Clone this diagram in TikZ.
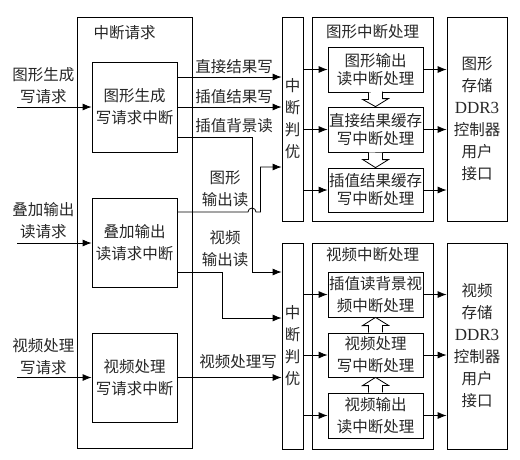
\documentclass[tikz,border=0pt]{standalone}
\usepackage{fontspec}
\setmainfont{Liberation Serif}
\newfontfamily\cjk{Noto Sans CJK SC}
\usetikzlibrary{arrows.meta}
\begin{document}
\begin{tikzpicture}[x=1pt,y=-1pt,
  every node/.style={font=\cjk\fontsize{15.5}{22}\selectfont, text=black!85, align=center, inner sep=0pt},
  tight/.style={font=\cjk\fontsize{15.5}{18}\selectfont},
  box/.style={draw, line width=0.8pt},
  arr/.style={-{Latex[length=9pt,width=7pt]}, line width=0.8pt},
  ln/.style={line width=0.8pt},
  hollow/.style={line width=0.8pt, draw, fill=white}]
\useasboundingbox (0,0) rectangle (520,459);

% left column
\node[box, minimum width=115pt, minimum height=431pt] (req) at (134.5,232.5) {};
\node (reqt) at (124.5,33) {中断请求};
\node[box, minimum width=85pt, minimum height=90pt] (b1) at (134.5,107) {图形生成\\写请求中断};
\node[box, minimum width=85pt, minimum height=89pt] (b2) at (134.5,242.5) {叠加输出\\读请求中断};
\node[box, minimum width=85pt, minimum height=89pt] (b3) at (134.5,377.5) {视频处理\\写请求中断};

% input labels
\node (l1) at (43.5,86) {图形生成\\写请求};
\node (l2) at (43.5,221) {叠加输出\\读请求};
\node (l3) at (43.5,356.5) {视频处理\\写请求};
\coordinate (i1) at (17,107);
\coordinate (i2) at (17,243);
\coordinate (i3) at (17,377.5);

% arbitration
\node[box, minimum width=21pt, minimum height=204pt] (j1) at (292.5,119) {中\\断\\判\\优};
\node[box, minimum width=21pt, minimum height=206pt] (j2) at (292.5,346) {中\\断\\判\\优};

% graphic processing
\node[box, minimum width=121pt, minimum height=204pt] (g) at (372.5,119) {};
\node (gt) at (372.5,32) {图形中断处理};
\node[box, tight, minimum width=95pt, minimum height=45pt] (ga) at (375.5,69.5) {图形输出\\读中断处理};
\node[box, tight, minimum width=95pt, minimum height=45pt] (gb) at (375.5,129.5) {直接结果缓存\\写中断处理};
\node[box, tight, minimum width=95pt, minimum height=44pt] (gc) at (375.5,190) {插值结果缓存\\写中断处理};

% video processing
\node[box, minimum width=121pt, minimum height=206pt] (v) at (372.5,346) {};
\node (vt) at (372.5,255) {视频中断处理};
\node[box, minimum width=95pt, minimum height=45pt] (va) at (375.5,294.5) {插值读背景视\\频中断处理};
\node[box, minimum width=95pt, minimum height=44pt] (vb) at (375.5,355) {视频处理\\写中断处理};
\node[box, minimum width=95pt, minimum height=45pt] (vc) at (375.5,415.5) {视频输出\\读中断处理};

% DDR3
\node[box, minimum width=60pt, minimum height=204pt] (d1) at (477,119) {图形\\存储\\{\rmfamily\fontsize{17}{22}\selectfont DDR3}\\控制器\\用户\\接口};
\node[box, minimum width=60pt, minimum height=206pt] (d2) at (477,346) {视频\\存储\\{\rmfamily\fontsize{17}{22}\selectfont DDR3}\\控制器\\用户\\接口};

% input arrows
\draw[arr] (i1) -- (b1.west |- i1);
\draw[arr] (i2) -- (b2.west |- i2);
\draw[arr] (i3) -- (b3.west |- i3);

% request to arbitration
\draw[arr] ([yshift=30pt]b1.east) coordinate (s1) -- (s1 -| j1.west);
\draw[arr] (b1.east) -- (b1.east -| j1.west);
\coordinate (k1) at (252,272);
\draw[arr] ([yshift=-30pt]b1.east) -| (k1) -- (k1 -| j2.west);
\coordinate (h0) at (248,212);
\coordinate (k2) at (260.5,167);
\draw[arr] (h0 -| b2.east) -- (h0) arc[start angle=180, end angle=0, radius=4pt] -- (k2 |- h0) -- (k2) -- (k2 -| j1.west);
\coordinate (k3a) at (222,272);
\coordinate (k3) at (222,318);
\draw[arr] (k3a -| b2.east) -- (k3a) -- (k3) -- (k3 -| j2.west);
\draw[arr] (b3.east) -- (b3.east -| j2.west);

% labels on request connectors
\node (t1) at (234,67) {直接结果写};
\node (t2) at (234,97) {插值结果写};
\node (t3) at (234,126) {插值背景读};
\node (t4) at (225,189) {图形\\输出读};
\node (t5) at (225,249) {视频\\输出读};
\node (t6) at (238,362) {视频处理写};

% arbitration to handlers
\foreach \n in {ga,gb,gc} {\draw[arr] (\n.west -| j1.east) -- (\n.west);}
\foreach \n in {va,vb,vc} {\draw[arr] (\n.west -| j2.east) -- (\n.west);}
\foreach \n in {ga,gb,gc} {\draw[arr] (\n.east) -- (\n.east -| d1.west);}
\foreach \n in {va,vb,vc} {\draw[arr] (\n.east) -- (\n.east -| d2.west);}

% hollow arrows
\draw[hollow] ([xshift=-7pt]ga.south) -- ++(0,7) -- ++(-6,0) -- (gb.north) -- ++(13,-8) -- ++(-6,0) -- ++(0,-7);
\draw[hollow] ([xshift=-7pt]gb.south) -- ++(0,7) -- ++(-6,0) -- (gc.north) -- ++(13,-8) -- ++(-6,0) -- ++(0,-7);
\draw[hollow] ([xshift=-7pt]vb.north) -- ++(0,-7) -- ++(-6,0) -- (va.south) -- ++(13,8) -- ++(-6,0) -- ++(0,7);
\draw[hollow] ([xshift=-7pt]vc.north) -- ++(0,-7) -- ++(-6,0) -- (vb.south) -- ++(13,8) -- ++(-6,0) -- ++(0,7);
\end{tikzpicture}
\end{document}
